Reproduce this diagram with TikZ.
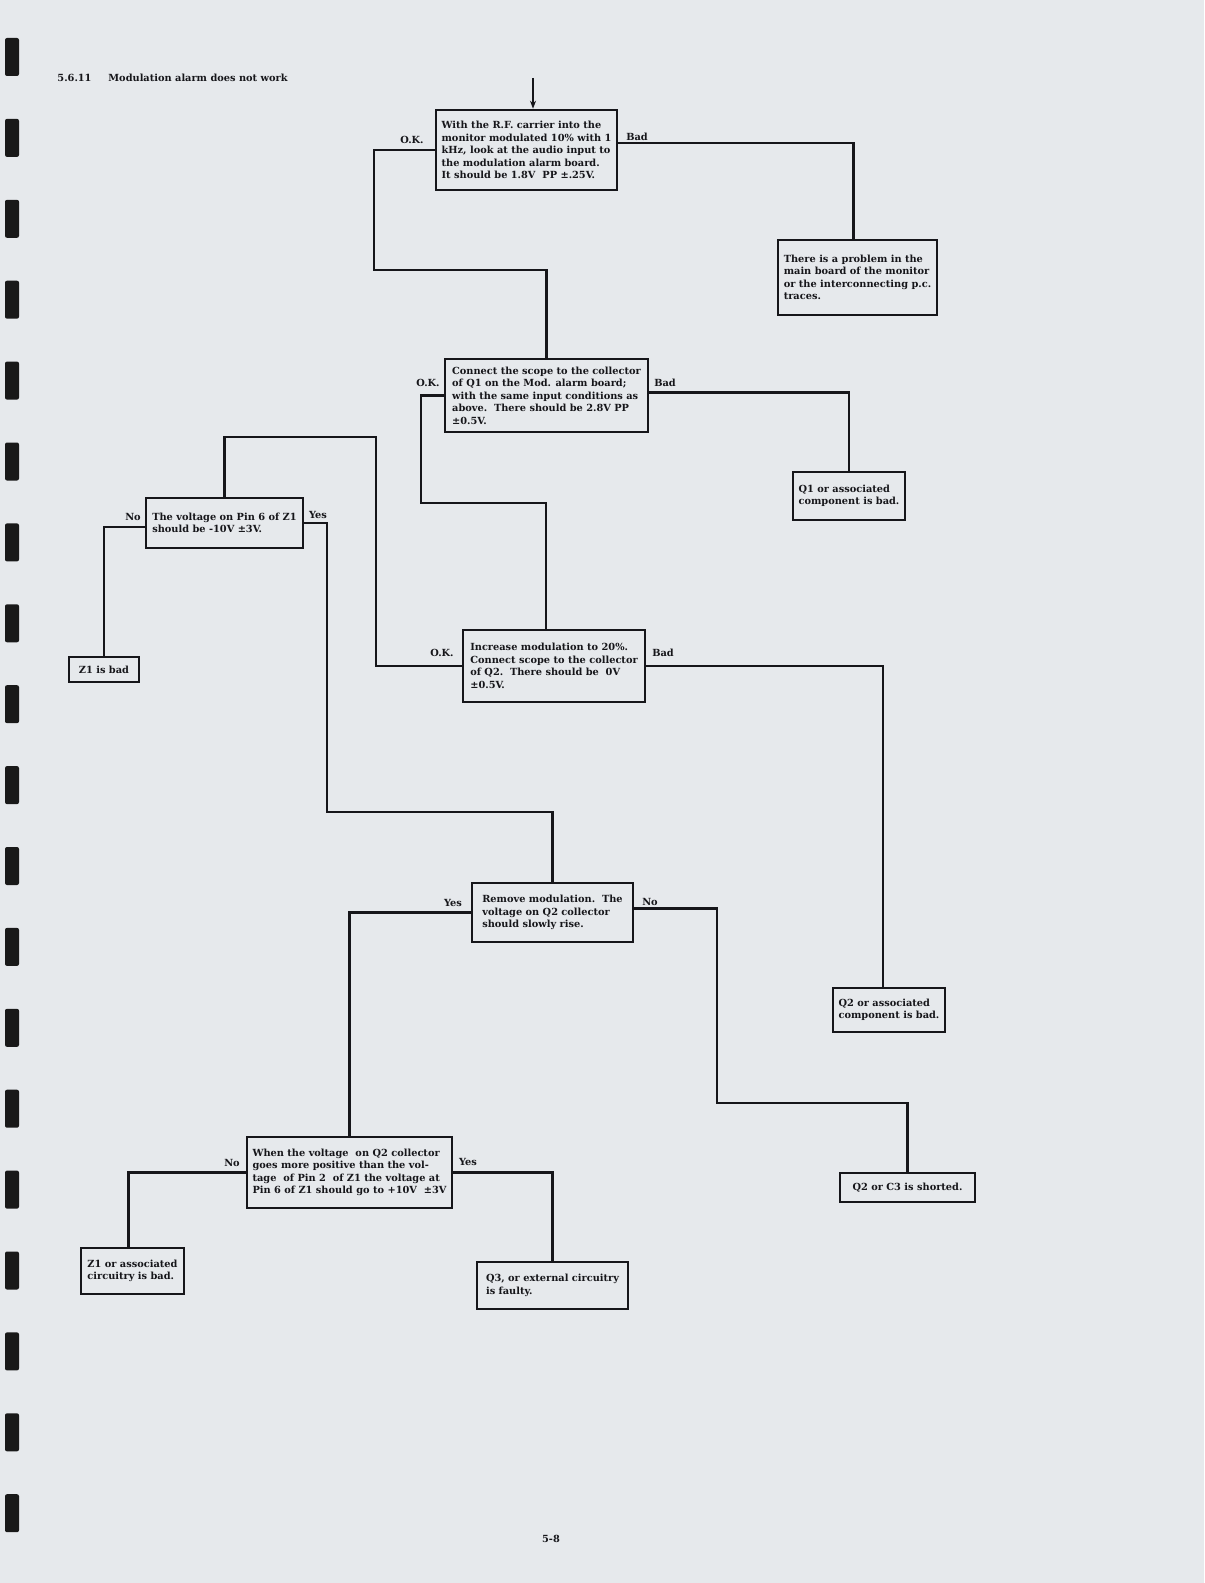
\documentclass[tikz,border=0pt]{standalone}
\usepackage{fontspec}
\setmainfont{DejaVu Serif}
\usepackage{tikz}
\usetikzlibrary{arrows.meta,positioning,calc}
\definecolor{paper}{RGB}{230,233,236}
\definecolor{ink}{RGB}{22,22,26}
\newcommand\typeface{\fontsize{4.9}{6.25}\selectfont\bfseries}
\tikzset{
  >={Stealth[length=4pt,width=3pt]},
  box/.style={draw=ink,line width=1.3pt,align=left,font=\typeface,text=ink,
    inner sep=2pt,minimum width=#1},
  box/.default=50pt,
  lbl/.style={font=\typeface,text=ink,inner sep=1pt},
  wire/.style={draw=ink,line width=1.2pt},
  hole/.style={fill=black!90,rounded corners=1pt},
}
\begin{document}
\begin{tikzpicture}[x=0.5pt,y=-0.5pt]
  \fill[paper] (0,0) rectangle (1204,1583);
  \useasboundingbox (0,0) rectangle (1204,1583);
  % binding holes
  \foreach \i in {0,...,18}
    \fill[hole] (5,{38+80.9*\i}) rectangle (19,{76+80.9*\i});
  \node[lbl] (secno) at (74.5,78) {5.6.11};
  \node[lbl] (title) at (198,78) {Modulation alarm does not work};
  \node[lbl] (pageno) at (551,1539) {5-8};

  \node[box=90.5pt,minimum height=40pt] (audio) at (526.5,150)
    {With the R.F. carrier into the\\monitor modulated 10\% with 1\\kHz, look at the audio input to\\the modulation alarm board.\\It should be 1.8V\ \ PP ±.25V.};
  \node[box=79.5pt,minimum height=37.5pt] (mainbd) at (857.5,277.5)
    {There is a problem in the\\main board of the monitor\\or the interconnecting p.c.\\traces.};
  \node[box=101.5pt,minimum height=36.5pt] (q1col) at (546.5,395.5)
    {Connect the scope to the collector\\of Q1 on the Mod. alarm board;\\with the same input conditions as\\above.\ \ There should be 2.8V PP\\±0.5V.};
  \node[box=56pt,minimum height=24pt] (q1bad) at (849,496)
    {Q1 or associated\\component is bad.};
  \node[box=78.5pt,minimum height=25pt] (pin6) at (224.5,523)
    {The voltage on Pin 6 of Z1\\should be -10V ±3V.};
  \node[box=35pt,minimum height=12.5pt] (z1bad) at (104,669.5) {Z1 is bad};
  \node[box=91pt,minimum height=36pt] (q2col) at (554,666)
    {Increase modulation to 20\%.\\Connect scope to the collector\\of Q2.\ \ There should be\ \ 0V\\±0.5V.};
  \node[box=80.5pt,minimum height=29.5pt] (remmod) at (552.5,912.5)
    {Remove modulation.\ \ The\\voltage on Q2 collector\\should slowly rise.};
  \node[box=56pt,minimum height=22pt] (q2bad) at (889,1010)
    {Q2 or associated\\component is bad.};
  \node[box=102.5pt,minimum height=35.5pt] (q2rise) at (349.5,1172.5)
    {When the voltage\ \ on Q2 collector\\goes more positive than the vol-\\tage\ \ of Pin 2\ \ of Z1 the voltage at\\Pin 6 of Z1 should go to +10V\ \ ±3V};
  \node[box=67.5pt,minimum height=14.5pt] (q2short) at (907.5,1187.5) {Q2 or C3 is shorted.};
  \node[box=51.5pt,minimum height=23pt] (z1assoc) at (132.5,1271)
    {Z1 or associated\\circuitry is bad.};
  \node[box=75.5pt,minimum height=23.5pt] (q3bad) at (552.5,1285.5)
    {Q3, or external circuitry\\is faulty.};

  % branch labels
  \node[lbl] (okA) at (412,140) {O.K.};
  \node[lbl] (badA) at (637,137) {Bad};
  \node[lbl] (okB) at (428,383) {O.K.};
  \node[lbl] (badB) at (665,383) {Bad};
  \node[lbl] (noF) at (133,517) {No};
  \node[lbl] (yesF) at (318,515) {Yes};
  \node[lbl] (okE) at (442,653) {O.K.};
  \node[lbl] (badE) at (663,653) {Bad};
  \node[lbl] (yesG) at (453,903) {Yes};
  \node[lbl] (noG) at (650,902) {No};
  \node[lbl] (noI) at (232,1163) {No};
  \node[lbl] (yesI) at (468,1162) {Yes};

  \coordinate (entry) at (533,78);
  \coordinate (k1) at (374,270);
  \coordinate (k3) at (421,503);
  \coordinate (k4) at (546,503);
  \coordinate (k5) at (376,437);
  \coordinate (k6) at (327,812);
  \coordinate (k7) at (717,1103);

  \draw[wire,->] (entry) -- (entry |- audio.north);
  \draw[wire] (audio.west) -| (k1) -| (q1col.north);
  \draw[wire] ([yshift=3.5pt]audio.east) -| ([xshift=-2pt]mainbd.north);
  \draw[wire] (q1col.west) -| (k3) -- (k4) -- (k4 |- q2col.north);
  \draw[wire] ([yshift=1.5pt]q1col.east) -| (q1bad.north);
  \draw[wire] (q2col.west) -| (k5) -| (pin6.north);
  \draw[wire] (q2col.east) -| ([xshift=-3pt]q2bad.north);
  \draw[wire] ([yshift=-2pt]pin6.west) -| (z1bad.north);
  \draw[wire] (pin6.east) -| (k6) -| (remmod.north);
  \draw[wire] (remmod.west) -| (q2rise.north);
  \draw[wire] ([yshift=2pt]remmod.east) -| (k7) -| (q2short.north);
  \draw[wire] (q2rise.west) -| ([xshift=-2pt]z1assoc.north);
  \draw[wire] (q2rise.east) -| (q3bad.north);
\end{tikzpicture}
\end{document}
